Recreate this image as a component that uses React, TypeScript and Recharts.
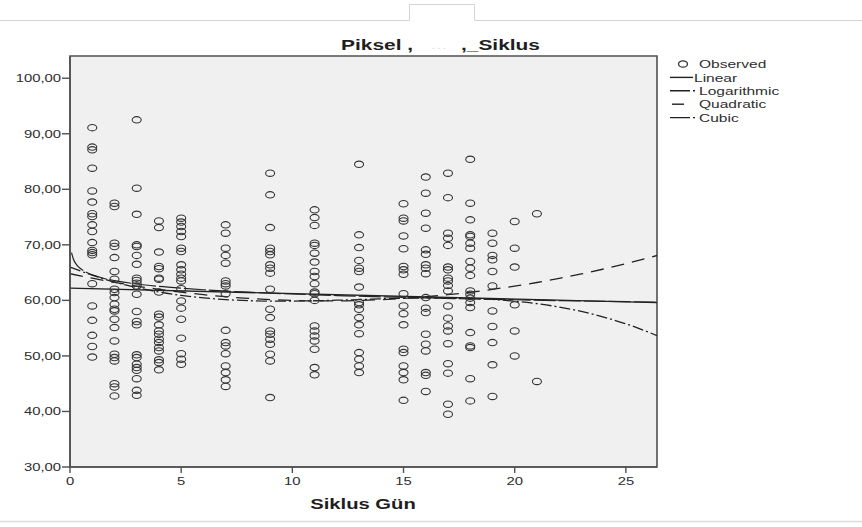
import React from "react";
import {
  ComposedChart,
  Scatter,
  Line,
  XAxis,
  YAxis,
  CartesianGrid,
  ReferenceArea,
  Legend,
} from "recharts";

// ---------- data ----------
const chartTitleLeft = "Piksel ,";
const chartTitleRight = ",_Siklus";
const xAxisTitle = "Siklus Gün";
const legendNames = ["Observed", "Linear", "Logarithmic", "Quadratic", "Cubic"];

const xTicks = [0, 5, 10, 15, 20, 25];
const yTicks = [30, 40, 50, 60, 70, 80, 90, 100];

const cycleDays = [1, 2, 3, 4, 5, 7, 9, 11, 13, 15, 16, 17, 18, 19, 20, 21];

const day1 = [91.1, 87.6, 87.1, 83.8, 79.7, 77.7, 75.6, 75.1, 73.6, 72.4, 70.4, 69.0, 68.6, 68.2, 63.0, 59.0, 56.4, 53.7, 51.7, 49.8];
const day2 = [77.5, 76.9, 70.3, 69.7, 67.7, 65.2, 63.8, 62.0, 61.4, 60.5, 59.3, 58.4, 58.1, 56.6, 55.1, 52.7, 50.3, 49.7, 49.1, 45.0, 44.4, 42.8];
const day3 = [92.5, 80.2, 75.5, 70.0, 69.7, 68.1, 66.5, 64.0, 63.6, 63.1, 62.6, 61.1, 58.0, 56.2, 55.6, 50.2, 49.7, 48.5, 47.9, 47.4, 45.9, 43.8, 42.9];
const day4 = [74.3, 73.1, 68.7, 66.1, 65.7, 64.0, 63.8, 61.5, 57.5, 57.0, 55.6, 54.5, 53.9, 53.0, 52.4, 51.5, 50.9, 49.3, 48.8, 47.5];
const day5 = [74.8, 74.1, 73.3, 72.4, 71.5, 69.4, 68.8, 66.4, 65.5, 64.7, 64.0, 63.5, 62.1, 59.9, 58.6, 56.6, 53.2, 50.4, 49.4, 48.5];
const day7 = [73.6, 72.1, 69.4, 68.1, 66.7, 63.5, 63.0, 62.6, 61.2, 54.6, 52.4, 51.8, 50.4, 48.2, 47.0, 45.7, 44.5];
const day9 = [82.9, 79.0, 73.1, 69.4, 68.8, 68.2, 66.4, 65.8, 64.9, 62.0, 58.4, 56.9, 54.5, 53.9, 53.0, 52.1, 50.3, 49.1, 42.5];
const day11 = [76.3, 74.9, 73.5, 70.3, 69.9, 68.5, 66.9, 65.2, 64.3, 63.0, 61.5, 61.2, 60.0, 55.4, 54.5, 53.6, 52.7, 51.2, 47.9, 46.6];
const day13 = [84.5, 71.8, 69.5, 67.2, 65.8, 65.2, 62.4, 59.6, 59.2, 58.4, 56.9, 55.6, 54.0, 50.6, 49.4, 48.2, 47.0];
const day15 = [77.4, 74.8, 74.3, 71.6, 69.3, 66.1, 65.5, 64.7, 61.2, 59.0, 57.6, 55.6, 51.2, 50.6, 48.2, 47.0, 45.7, 42.0];
const day16 = [82.2, 79.3, 75.7, 73.0, 69.1, 68.3, 66.4, 65.8, 64.8, 60.5, 58.6, 57.8, 53.9, 52.1, 50.9, 47.0, 46.5, 43.6];
const day17 = [82.9, 78.5, 72.1, 71.2, 69.9, 66.0, 65.5, 64.0, 63.5, 62.7, 61.7, 59.0, 56.8, 55.4, 54.5, 52.2, 48.6, 46.9, 41.3, 39.5];
const day18 = [85.4, 77.5, 74.5, 71.8, 71.5, 70.3, 69.4, 67.0, 65.8, 64.5, 61.7, 61.1, 60.4, 59.6, 58.7, 54.2, 51.8, 51.5, 45.9, 41.9];
const day19 = [72.1, 70.3, 68.1, 67.3, 65.2, 62.6, 58.1, 55.3, 52.4, 48.4, 42.7];
const day20 = [74.2, 69.4, 66.0, 59.2, 54.5, 50.0];
const day21 = [75.6, 45.4];

const dayValues = [day1, day2, day3, day4, day5, day7, day9, day11, day13, day15, day16, day17, day18, day19, day20, day21];

// fitted curves
const linearX = [0, 26.4];
const linearY = [62.2, 59.6];

const logX = [0.07, 0.15, 0.3, 0.5, 0.75, 1, 1.5, 2, 3, 4, 5, 6, 8, 10, 12, 14, 16, 18, 20, 22, 24, 26.4];
const logY = [68.6, 67.45, 66.4, 65.64, 65.03, 64.6, 63.99, 63.56, 62.95, 62.52, 62.19, 61.91, 61.48, 61.15, 60.87, 60.64, 60.44, 60.26, 60.11, 59.96, 59.83, 59.69];

const polyX = [0, 1, 2, 3, 4, 5, 6, 7, 8, 9, 10, 11, 12, 13, 14, 15, 16, 17, 18, 19, 20, 21, 22, 23, 24, 25, 26, 26.4];
const quadraticY = [64.8, 63.99, 63.25, 62.58, 61.99, 61.47, 61.03, 60.66, 60.36, 60.14, 59.99, 59.91, 59.91, 59.98, 60.13, 60.35, 60.65, 61.02, 61.46, 61.98, 62.58, 63.22, 63.96, 64.77, 65.65, 66.61, 67.65, 68.08];
const cubicY = [66.0, 64.53, 63.31, 62.31, 61.51, 60.9, 60.45, 60.14, 59.95, 59.87, 59.87, 59.93, 60.03, 60.15, 60.28, 60.38, 60.44, 60.44, 60.35, 60.17, 59.86, 59.41, 58.8, 58.0, 57.0, 55.78, 54.31, 53.65];

// ---------- derived tables ----------
const observed = cycleDays.flatMap((d, i) => dayValues[i].map((v) => ({ x: d, y: v })));
const zip = (xs: number[], ys: number[]) => xs.map((x, i) => ({ x, y: ys[i] }));
const linearData = zip(linearX, linearY);
const logData = zip(logX, logY);
const quadData = zip(polyX, quadraticY);
const cubicData = zip(polyX, cubicY);

// ---------- styles ----------
const FONT = "'Liberation Sans', Arial, Helvetica, sans-serif";
const SX = 1.35;
const INK = "#222222";
const AXIS = "#505050";
const DASH_LOG = "22 3";
const DASH_QUAD = "13 8";
const DASH_CUBIC = "11 3 2 3";

const fmt = (v: number) => v.toFixed(2).replace(".", ",");

const YTick = (props: any) => {
  const { x, y, payload } = props;
  return (
    <text
      transform={`translate(${x},${y}) scale(${SX},1)`}
      textAnchor="end"
      dy="0.36em"
      fontSize={11}
      fontFamily={FONT}
      fill="#2e2e2e"
    >
      {fmt(payload.value)}
    </text>
  );
};

const XTick = (props: any) => {
  const { x, y, payload } = props;
  return (
    <text
      transform={`translate(${x},${y}) scale(${SX},1)`}
      textAnchor="middle"
      dy="0.71em"
      fontSize={11}
      fontFamily={FONT}
      fill="#2e2e2e"
    >
      {payload.value}
    </text>
  );
};

const Dot = (props: any) => {
  const { cx, cy } = props;
  return <ellipse cx={cx} cy={cy} rx={4.5} ry={3.2} fill="none" stroke="#333333" strokeWidth={1.1} />;
};

const legendStyles = [
  { kind: "dot" },
  { kind: "line", x1: 670, x2: 693, dash: undefined },
  { kind: "line", x1: 670, x2: 695, dash: "20 3 2 30" },
  { kind: "line", x1: 672, x2: 684, dash: undefined },
  { kind: "line", x1: 670, x2: 695, dash: "20 3 2 30" },
];

const LegendContent = () => (
  <svg width={862} height={140} style={{ display: "block" }}>
    {legendNames.map((name, i) => {
      const cy = 64 + i * 13.4;
      const st: any = legendStyles[i];
      return (
        <g key={name}>
          {st.kind === "dot" ? (
            <ellipse cx={683} cy={cy} rx={4.5} ry={3.2} fill="none" stroke="#333333" strokeWidth={1.3} />
          ) : (
            <line x1={st.x1} x2={st.x2} y1={cy} y2={cy} stroke={INK} strokeWidth={1.4} strokeDasharray={st.dash} />
          )}
          <text
            transform={`translate(${i === 1 ? 694 : 699},${cy}) scale(${SX},1)`}
            dy="0.36em"
            fontSize={11.5}
            fontFamily={FONT}
            fill="#2e2e2e"
          >
            {name}
          </text>
        </g>
      );
    })}
  </svg>
);

export default function App() {
  return (
    <div style={{ position: "absolute", left: 0, top: 0, width: 862, height: 527, background: "#fff" }}>
      <svg width={862} height={527} style={{ position: "absolute", left: 0, top: 0 }}>
        <path d="M0,20.5 H409.5 V4.5 H474.5 V20.5 H862" fill="none" stroke="#d4d4d4" strokeWidth={1} />
        <line x1={0} x2={862} y1={521.5} y2={521.5} stroke="#dcdcdc" strokeWidth={1.5} />
        <text
          transform={`translate(341,50) scale(${SX},1)`}
          fontSize={15.5}
          fontWeight="bold"
          fontFamily={FONT}
          fill="#1e1e1e"
        >
          {chartTitleLeft}
        </text>
        <text x={432} y={49} fontSize={10} fontFamily={FONT} fill="#cfcfcf">
          {". . ."}
        </text>
        <text
          transform={`translate(540,50) scale(${SX},1)`}
          textAnchor="end"
          fontSize={15.5}
          fontWeight="bold"
          fontFamily={FONT}
          fill="#1e1e1e"
        >
          {chartTitleRight}
        </text>
        <text
          transform={`translate(363,509) scale(${SX},1)`}
          textAnchor="middle"
          fontSize={15}
          fontWeight="bold"
          fontFamily={FONT}
          fill="#1e1e1e"
        >
          {xAxisTitle}
        </text>
      </svg>
      <div style={{ position: "absolute", left: 0, top: 0 }}>
        <ComposedChart width={862} height={527} margin={{ top: 56, right: 205, bottom: 20, left: 10 }}>
          <CartesianGrid horizontal={false} vertical={false} fill="#f0f0f0" />
          <XAxis
            type="number"
            dataKey="x"
            domain={[0, 26.4]}
            allowDataOverflow
            ticks={xTicks}
            tick={<XTick />}
            tickSize={6}
            tickMargin={4}
            height={40}
            axisLine={{ stroke: AXIS, strokeWidth: 1.6 }}
            tickLine={{ stroke: AXIS, strokeWidth: 1.4 }}
          />
          <YAxis
            type="number"
            dataKey="y"
            domain={[30, 104]}
            allowDataOverflow
            ticks={yTicks}
            tick={<YTick />}
            tickSize={8}
            tickMargin={1}
            width={60}
            axisLine={{ stroke: AXIS, strokeWidth: 1.6 }}
            tickLine={{ stroke: AXIS, strokeWidth: 1.4 }}
          />
          <ReferenceArea
            x1={0}
            x2={26.4}
            y1={30}
            y2={104}
            fill="none"
            fillOpacity={0}
            stroke={AXIS}
            strokeWidth={1.6}
            ifOverflow="visible"
          />
          <Scatter name="Observed" data={observed} dataKey="y" shape={<Dot />} isAnimationActive={false} />
          <Line name="Linear" data={linearData} dataKey="y" type="linear" dot={false} stroke={INK} strokeWidth={1.3} isAnimationActive={false} />
          <Line name="Logarithmic" data={logData} dataKey="y" type="monotone" dot={false} stroke={INK} strokeWidth={1.2} strokeDasharray={DASH_LOG} isAnimationActive={false} />
          <Line name="Quadratic" data={quadData} dataKey="y" type="monotone" dot={false} stroke={INK} strokeWidth={1.3} strokeDasharray={DASH_QUAD} isAnimationActive={false} />
          <Line name="Cubic" data={cubicData} dataKey="y" type="monotone" dot={false} stroke={INK} strokeWidth={1.3} strokeDasharray={DASH_CUBIC} isAnimationActive={false} />
          <Legend
            layout="vertical"
            align="center"
            verticalAlign="middle"
            content={<LegendContent />}
            wrapperStyle={{ left: 0, top: 0, width: 862, height: 140, pointerEvents: "none" }}
          />
        </ComposedChart>
      </div>
    </div>
  );
}
